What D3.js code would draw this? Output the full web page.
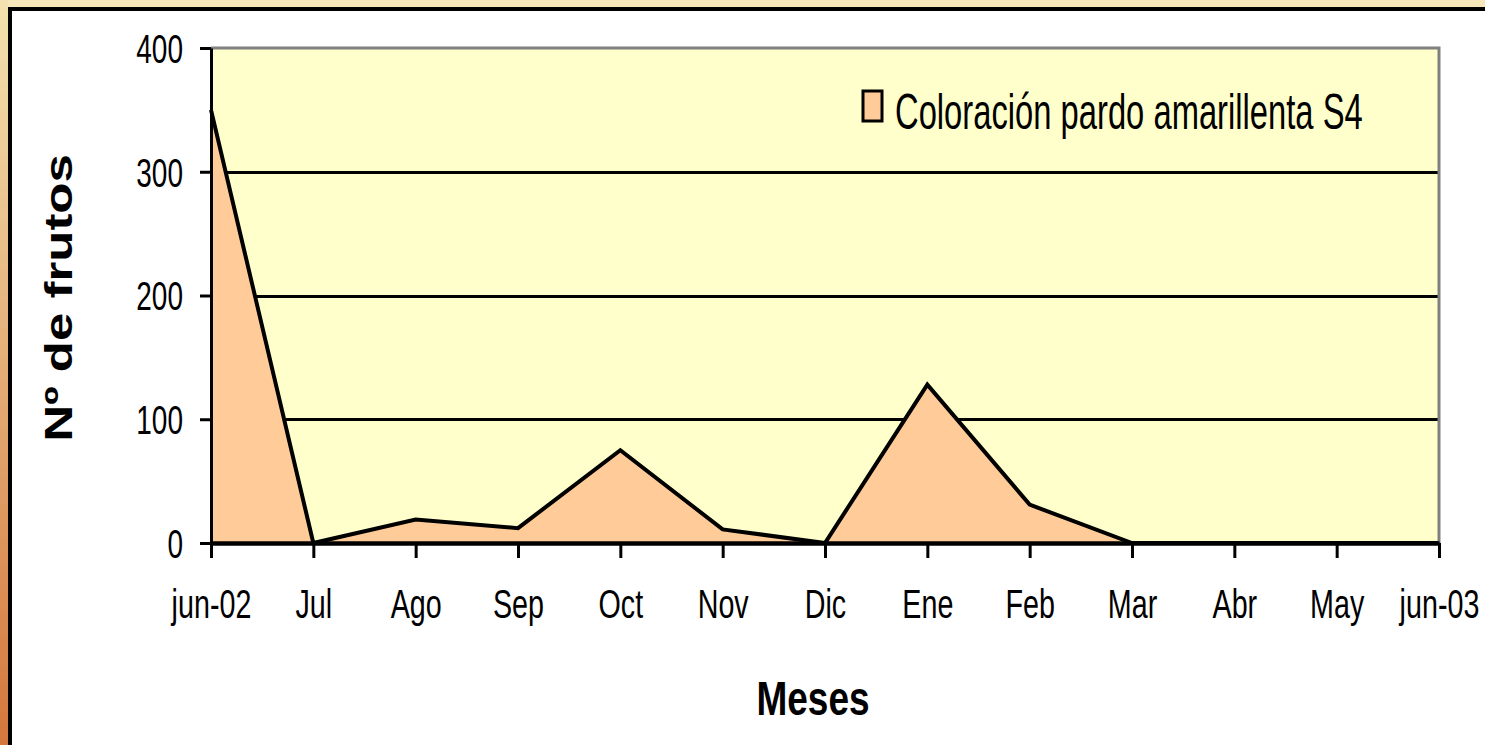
<!DOCTYPE html>
<html>
<head>
<meta charset="utf-8">
<script src="https://cdn.jsdelivr.net/npm/d3@7"></script>
<style>
  html, body { margin: 0; padding: 0; background: #ffffff; }
  svg { display: block; }
</style>
</head>
<body>
<svg id="chart" width="1485" height="745"></svg>
<script>
// ---- data ----
const months = ["jun-02","Jul","Ago","Sep","Oct","Nov","Dic","Ene","Feb","Mar","Abr","May","jun-03"];
const values = [350, 0, 19, 12, 75, 11, 0, 128, 31, 0, 0, 0, 0];
const yTicks = [0, 100, 200, 300, 400];
const seriesName = "Coloración pardo amarillenta S4";
const yTitle = "Nº de frutos";
const xTitle = "Meses";

// ---- layout ----
const W = 1485, H = 745;
const plot = { left: 211, right: 1439, top: 48, bottom: 543 };
const fillColor = "#FFCC99";
const plotBg = "#FFFFCC";
const FONT = "'Liberation Sans', Arial, sans-serif";

const svg = d3.select("#chart");

// outer frame: gradient left stripe, beige top stripe
const defs = svg.append("defs");
const grad = defs.append("linearGradient").attr("id","leftGrad")
  .attr("x1",0).attr("y1",0).attr("x2",0).attr("y2",1);
grad.append("stop").attr("offset","0%").attr("stop-color","#F3E2B0");
grad.append("stop").attr("offset","100%").attr("stop-color","#D4773C");

svg.append("rect").attr("x",0).attr("y",0).attr("width",W).attr("height",H).attr("fill","#ffffff");
svg.append("rect").attr("x",0).attr("y",0).attr("width",W).attr("height",8).attr("fill","#F5E7BA");
svg.append("rect").attr("x",0).attr("y",0).attr("width",8).attr("height",H).attr("fill","url(#leftGrad)");
svg.append("rect").attr("x",8).attr("y",7).attr("width",W-8).attr("height",4).attr("fill","#000");
svg.append("rect").attr("x",8).attr("y",7).attr("width",4).attr("height",H-7).attr("fill","#000");

// scales
const x = d3.scalePoint().domain(months).range([plot.left, plot.right]);
const y = d3.scaleLinear().domain([0, 400]).range([plot.bottom, plot.top]);

// plot background
svg.append("rect")
  .attr("x", plot.left).attr("y", plot.top)
  .attr("width", plot.right - plot.left).attr("height", plot.bottom - plot.top)
  .attr("fill", plotBg);

// grid lines
svg.append("g").selectAll("line")
  .data(yTicks.filter(d => d > 0 && d < 400))
  .join("line")
  .attr("x1", plot.left).attr("x2", plot.right)
  .attr("y1", d => Math.round(y(d)) + 0.5).attr("y2", d => Math.round(y(d)) + 0.5)
  .attr("stroke", "#000").attr("stroke-width", 3);

// area + line
const data = months.map((m, i) => ({ m, v: values[i] }));
svg.append("path")
  .datum(data)
  .attr("d", d3.area().x(d => x(d.m)).y0(y(0)).y1(d => y(d.v)))
  .attr("fill", fillColor);
svg.append("path")
  .datum(data)
  .attr("d", d3.line().x(d => x(d.m)).y(d => y(d.v)))
  .attr("fill", "none").attr("stroke", "#000").attr("stroke-width", 4)
  .attr("stroke-linejoin", "miter");

// plot border (top / right, grey)
svg.append("path")
  .attr("d", `M${plot.left},${plot.top}H${plot.right}V${plot.bottom}`)
  .attr("fill","none").attr("stroke","#808080").attr("stroke-width",3);

// y axis
const sx = 0.7;
const yAxis = svg.append("g")
  .attr("transform", `translate(${plot.left},0)`)
  .call(d3.axisLeft(y).tickValues(yTicks).tickSize(11).tickSizeOuter(0).tickPadding(0));
yAxis.select(".domain").attr("stroke","#000").attr("stroke-width",3);
yAxis.selectAll(".tick line").attr("stroke","#000").attr("stroke-width",3);
yAxis.selectAll(".tick text")
  .attr("font-family", FONT).attr("font-size", 40).attr("fill","#000")
  .attr("x", -28 / sx).attr("dy", "0.36em")
  .attr("transform", `scale(${sx},1)`);

// x axis
const xAxis = svg.append("g")
  .attr("transform", `translate(0,${plot.bottom})`)
  .call(d3.axisBottom(x).tickSize(15).tickSizeOuter(0).tickPadding(0));
xAxis.select(".domain").attr("stroke","#000").attr("stroke-width",4.5);
xAxis.selectAll(".tick line").attr("stroke","#000").attr("stroke-width",3);
xAxis.selectAll(".tick text")
  .attr("font-family", FONT).attr("font-size", 41).attr("fill","#000")
  .attr("y", 75).attr("dy", 0)
  .attr("transform", `scale(${sx},1)`)
  .attr("x", 0);

// axis titles
svg.append("g")
  .attr("transform", `translate(813,715) scale(0.77,1)`)
  .append("text")
  .attr("text-anchor","middle")
  .attr("font-family", FONT).attr("font-weight","bold").attr("font-size", 48)
  .attr("fill","#000")
  .text(xTitle);

svg.append("g")
  .attr("transform", `translate(72,298) scale(0.75,1) rotate(-90)`)
  .append("text")
  .attr("text-anchor","middle")
  .attr("font-family", FONT).attr("font-weight","bold").attr("font-size", 51)
  .attr("fill","#000")
  .text(yTitle);

// legend
const leg = svg.append("g");
leg.append("rect")
  .attr("x", 863).attr("y", 91).attr("width", 19).attr("height", 30)
  .attr("fill", fillColor).attr("stroke","#000").attr("stroke-width",3);
leg.append("g")
  .attr("transform", `translate(895,129) scale(0.655,1)`)
  .append("text")
  .attr("font-family", FONT).attr("font-size", 50).attr("fill","#000")
  .text(seriesName);
</script>
</body>
</html>
